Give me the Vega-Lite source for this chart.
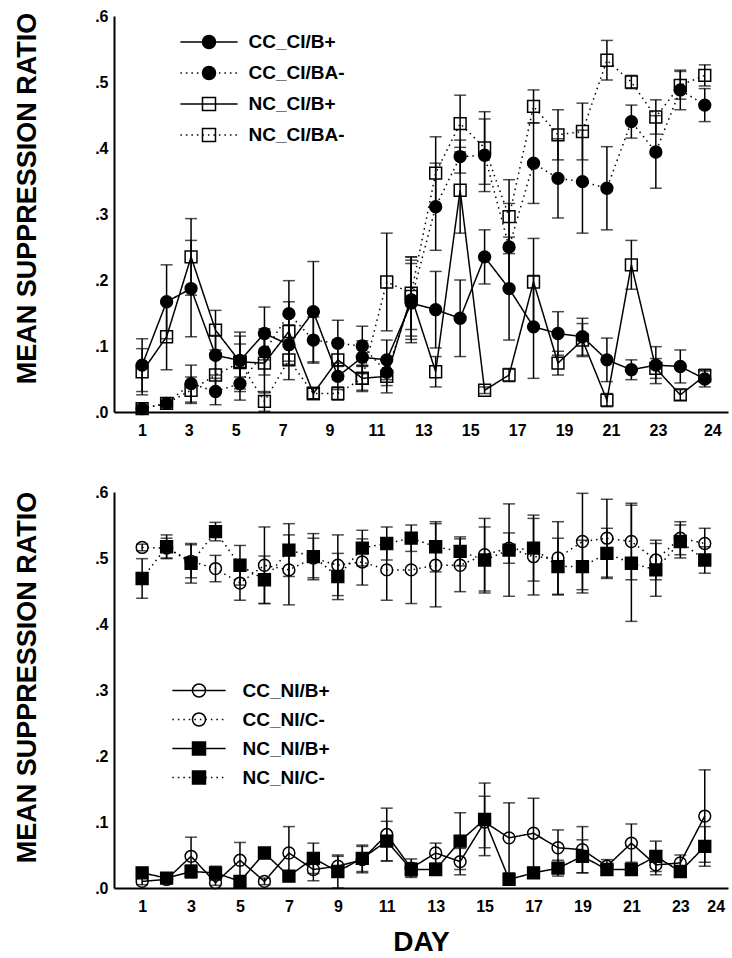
{
"$schema": "https://vega.github.io/schema/vega-lite/v6.json",
"padding": {"left": 12, "top": 8, "right": 4, "bottom": 0},
"spacing": 46,
"datasets": {
"top": [
{"d":1,"s":"CC_CI/B+","m":0.071,"e":0.04},{"d":2,"s":"CC_CI/B+","m":0.167,"e":0.056},{"d":3,"s":"CC_CI/B+","m":0.187,"e":0.073},{"d":4,"s":"CC_CI/B+","m":0.086,"e":0.03},{"d":5,"s":"CC_CI/B+","m":0.078,"e":0.025},{"d":6,"s":"CC_CI/B+","m":0.119,"e":0.04},{"d":7,"s":"CC_CI/B+","m":0.102,"e":0.03},{"d":8,"s":"CC_CI/B+","m":0.152,"e":0.076},{"d":9,"s":"CC_CI/B+","m":0.054,"e":0.02},{"d":10,"s":"CC_CI/B+","m":0.083,"e":0.025},{"d":11,"s":"CC_CI/B+","m":0.079,"e":0.03},{"d":12,"s":"CC_CI/B+","m":0.165,"e":0.06},{"d":13,"s":"CC_CI/B+","m":0.155,"e":0.058},{"d":14,"s":"CC_CI/B+","m":0.142,"e":0.058},{"d":15,"s":"CC_CI/B+","m":0.235,"e":0.041},{"d":16,"s":"CC_CI/B+","m":0.187,"e":0.078},{"d":17,"s":"CC_CI/B+","m":0.129,"e":0.078},{"d":18,"s":"CC_CI/B+","m":0.119,"e":0.033},{"d":19,"s":"CC_CI/B+","m":0.114,"e":0.028},{"d":20,"s":"CC_CI/B+","m":0.079,"e":0.033},{"d":21,"s":"CC_CI/B+","m":0.064,"e":0.015},{"d":22,"s":"CC_CI/B+","m":0.071,"e":0.028},{"d":23,"s":"CC_CI/B+","m":0.069,"e":0.025},{"d":24,"s":"CC_CI/B+","m":0.05,"e":0.012},
{"d":1,"s":"CC_CI/BA-","m":0.005,"e":0.003},{"d":2,"s":"CC_CI/BA-","m":0.013,"e":0.003},{"d":3,"s":"CC_CI/BA-","m":0.043,"e":0.028},{"d":4,"s":"CC_CI/BA-","m":0.031,"e":0.02},{"d":5,"s":"CC_CI/BA-","m":0.043,"e":0.025},{"d":6,"s":"CC_CI/BA-","m":0.091,"e":0.035},{"d":7,"s":"CC_CI/BA-","m":0.149,"e":0.05},{"d":8,"s":"CC_CI/BA-","m":0.109,"e":0.035},{"d":9,"s":"CC_CI/BA-","m":0.104,"e":0.035},{"d":10,"s":"CC_CI/BA-","m":0.1,"e":0.03},{"d":11,"s":"CC_CI/BA-","m":0.06,"e":0.02},{"d":12,"s":"CC_CI/BA-","m":0.17,"e":0.06},{"d":13,"s":"CC_CI/BA-","m":0.311,"e":0.066},{"d":14,"s":"CC_CI/BA-","m":0.387,"e":0.025},{"d":15,"s":"CC_CI/BA-","m":0.389,"e":0.055},{"d":16,"s":"CC_CI/BA-","m":0.25,"e":0.066},{"d":17,"s":"CC_CI/BA-","m":0.377,"e":0.061},{"d":18,"s":"CC_CI/BA-","m":0.354,"e":0.06},{"d":19,"s":"CC_CI/BA-","m":0.349,"e":0.078},{"d":20,"s":"CC_CI/BA-","m":0.339,"e":0.063},{"d":21,"s":"CC_CI/BA-","m":0.44,"e":0.025},{"d":22,"s":"CC_CI/BA-","m":0.394,"e":0.055},{"d":23,"s":"CC_CI/BA-","m":0.488,"e":0.03},{"d":24,"s":"CC_CI/BA-","m":0.465,"e":0.025},
{"d":1,"s":"NC_CI/B+","m":0.061,"e":0.035},{"d":2,"s":"NC_CI/B+","m":0.114,"e":0.05},{"d":3,"s":"NC_CI/B+","m":0.235,"e":0.058},{"d":4,"s":"NC_CI/B+","m":0.124,"e":0.03},{"d":5,"s":"NC_CI/B+","m":0.076,"e":0.045},{"d":6,"s":"NC_CI/B+","m":0.074,"e":0.045},{"d":7,"s":"NC_CI/B+","m":0.122,"e":0.045},{"d":8,"s":"NC_CI/B+","m":0.028,"e":0.008},{"d":9,"s":"NC_CI/B+","m":0.079,"e":0.03},{"d":10,"s":"NC_CI/B+","m":0.051,"e":0.018},{"d":11,"s":"NC_CI/B+","m":0.054,"e":0.025},{"d":12,"s":"NC_CI/B+","m":0.175,"e":0.06},{"d":13,"s":"NC_CI/B+","m":0.061,"e":0.023},{"d":14,"s":"NC_CI/B+","m":0.336,"e":0.065},{"d":15,"s":"NC_CI/B+","m":0.033,"e":0.005},{"d":16,"s":"NC_CI/B+","m":0.056,"e":0.01},{"d":17,"s":"NC_CI/B+","m":0.197,"e":0.066},{"d":18,"s":"NC_CI/B+","m":0.074,"e":0.018},{"d":19,"s":"NC_CI/B+","m":0.109,"e":0.025},{"d":20,"s":"NC_CI/B+","m":0.018,"e":0.01},{"d":21,"s":"NC_CI/B+","m":0.223,"e":0.037},{"d":22,"s":"NC_CI/B+","m":0.066,"e":0.015},{"d":23,"s":"NC_CI/B+","m":0.026,"e":0.008},{"d":24,"s":"NC_CI/B+","m":0.055,"e":0.01},
{"d":1,"s":"NC_CI/BA-","m":0.005,"e":0.003},{"d":2,"s":"NC_CI/BA-","m":0.013,"e":0.003},{"d":3,"s":"NC_CI/BA-","m":0.033,"e":0.02},{"d":4,"s":"NC_CI/BA-","m":0.056,"e":0.025},{"d":5,"s":"NC_CI/BA-","m":0.075,"e":0.04},{"d":6,"s":"NC_CI/BA-","m":0.016,"e":0.015},{"d":7,"s":"NC_CI/BA-","m":0.079,"e":0.03},{"d":8,"s":"NC_CI/BA-","m":0.028,"e":0.008},{"d":9,"s":"NC_CI/BA-","m":0.028,"e":0.01},{"d":10,"s":"NC_CI/BA-","m":0.051,"e":0.02},{"d":11,"s":"NC_CI/BA-","m":0.197,"e":0.074},{"d":12,"s":"NC_CI/BA-","m":0.18,"e":0.055},{"d":13,"s":"NC_CI/BA-","m":0.362,"e":0.055},{"d":14,"s":"NC_CI/BA-","m":0.437,"e":0.043},{"d":15,"s":"NC_CI/BA-","m":0.4,"e":0.055},{"d":16,"s":"NC_CI/BA-","m":0.296,"e":0.056},{"d":17,"s":"NC_CI/BA-","m":0.463,"e":0.025},{"d":18,"s":"NC_CI/BA-","m":0.42,"e":0.038},{"d":19,"s":"NC_CI/BA-","m":0.425,"e":0.043},{"d":20,"s":"NC_CI/BA-","m":0.533,"e":0.03},{"d":21,"s":"NC_CI/BA-","m":0.5,"e":0.01},{"d":22,"s":"NC_CI/BA-","m":0.447,"e":0.026},{"d":23,"s":"NC_CI/BA-","m":0.495,"e":0.021},{"d":24,"s":"NC_CI/BA-","m":0.51,"e":0.016}
],
"bottom": [
{"d":1,"s":"CC_NI/B+","m":0.01,"e":0.005},{"d":2,"s":"CC_NI/B+","m":0.013,"e":0.004},{"d":3,"s":"CC_NI/B+","m":0.048,"e":0.029},{"d":4,"s":"CC_NI/B+","m":0.008,"e":0.004},{"d":5,"s":"CC_NI/B+","m":0.042,"e":0.027},{"d":6,"s":"CC_NI/B+","m":0.01,"e":0.005},{"d":7,"s":"CC_NI/B+","m":0.053,"e":0.04},{"d":8,"s":"CC_NI/B+","m":0.028,"e":0.017},{"d":9,"s":"CC_NI/B+","m":0.033,"e":0.015},{"d":10,"s":"CC_NI/B+","m":0.043,"e":0.02},{"d":11,"s":"CC_NI/B+","m":0.081,"e":0.04},{"d":12,"s":"CC_NI/B+","m":0.03,"e":0.014},{"d":13,"s":"CC_NI/B+","m":0.053,"e":0.015},{"d":14,"s":"CC_NI/B+","m":0.04,"e":0.02},{"d":15,"s":"CC_NI/B+","m":0.1,"e":0.039},{"d":16,"s":"CC_NI/B+","m":0.076,"e":0.053},{"d":17,"s":"CC_NI/B+","m":0.083,"e":0.053},{"d":18,"s":"CC_NI/B+","m":0.061,"e":0.027},{"d":19,"s":"CC_NI/B+","m":0.058,"e":0.035},{"d":20,"s":"CC_NI/B+","m":0.033,"e":0.01},{"d":21,"s":"CC_NI/B+","m":0.068,"e":0.029},{"d":22,"s":"CC_NI/B+","m":0.035,"e":0.015},{"d":23,"s":"CC_NI/B+","m":0.038,"e":0.012},{"d":24,"s":"CC_NI/B+","m":0.109,"e":0.07},
{"d":1,"s":"CC_NI/C-","m":0.516,"e":0.005},{"d":2,"s":"CC_NI/C-","m":0.515,"e":0.015},{"d":3,"s":"CC_NI/C-","m":0.495,"e":0.025},{"d":4,"s":"CC_NI/C-","m":0.484,"e":0.02},{"d":5,"s":"CC_NI/C-","m":0.462,"e":0.026},{"d":6,"s":"CC_NI/C-","m":0.489,"e":0.058},{"d":7,"s":"CC_NI/C-","m":0.482,"e":0.053},{"d":8,"s":"CC_NI/C-","m":0.5,"e":0.03},{"d":9,"s":"CC_NI/C-","m":0.489,"e":0.046},{"d":10,"s":"CC_NI/C-","m":0.494,"e":0.035},{"d":11,"s":"CC_NI/C-","m":0.482,"e":0.046},{"d":12,"s":"CC_NI/C-","m":0.482,"e":0.051},{"d":13,"s":"CC_NI/C-","m":0.489,"e":0.063},{"d":14,"s":"CC_NI/C-","m":0.489,"e":0.04},{"d":15,"s":"CC_NI/C-","m":0.505,"e":0.055},{"d":16,"s":"CC_NI/C-","m":0.515,"e":0.023},{"d":17,"s":"CC_NI/C-","m":0.502,"e":0.058},{"d":18,"s":"CC_NI/C-","m":0.5,"e":0.055},{"d":19,"s":"CC_NI/C-","m":0.525,"e":0.073},{"d":20,"s":"CC_NI/C-","m":0.53,"e":0.059},{"d":21,"s":"CC_NI/C-","m":0.525,"e":0.058},{"d":22,"s":"CC_NI/C-","m":0.497,"e":0.03},{"d":23,"s":"CC_NI/C-","m":0.53,"e":0.025},{"d":24,"s":"CC_NI/C-","m":0.522,"e":0.023},
{"d":1,"s":"NC_NI/B+","m":0.023,"e":0.005},{"d":2,"s":"NC_NI/B+","m":0.015,"e":0.004},{"d":3,"s":"NC_NI/B+","m":0.025,"e":0.01},{"d":4,"s":"NC_NI/B+","m":0.023,"e":0.01},{"d":5,"s":"NC_NI/B+","m":0.01,"e":0.005},{"d":6,"s":"NC_NI/B+","m":0.053,"e":0.008},{"d":7,"s":"NC_NI/B+","m":0.018,"e":0.008},{"d":8,"s":"NC_NI/B+","m":0.045,"e":0.023},{"d":9,"s":"NC_NI/B+","m":0.025,"e":0.025},{"d":10,"s":"NC_NI/B+","m":0.045,"e":0.02},{"d":11,"s":"NC_NI/B+","m":0.071,"e":0.03},{"d":12,"s":"NC_NI/B+","m":0.028,"e":0.01},{"d":13,"s":"NC_NI/B+","m":0.028,"e":0.008},{"d":14,"s":"NC_NI/B+","m":0.071,"e":0.043},{"d":15,"s":"NC_NI/B+","m":0.104,"e":0.055},{"d":16,"s":"NC_NI/B+","m":0.013,"e":0.005},{"d":17,"s":"NC_NI/B+","m":0.023,"e":0.008},{"d":18,"s":"NC_NI/B+","m":0.03,"e":0.012},{"d":19,"s":"NC_NI/B+","m":0.048,"e":0.025},{"d":20,"s":"NC_NI/B+","m":0.028,"e":0.008},{"d":21,"s":"NC_NI/B+","m":0.028,"e":0.008},{"d":22,"s":"NC_NI/B+","m":0.048,"e":0.023},{"d":23,"s":"NC_NI/B+","m":0.025,"e":0.008},{"d":24,"s":"NC_NI/B+","m":0.063,"e":0.03},
{"d":1,"s":"NC_NI/C-","m":0.469,"e":0.03},{"d":2,"s":"NC_NI/C-","m":0.517,"e":0.018},{"d":3,"s":"NC_NI/C-","m":0.492,"e":0.03},{"d":4,"s":"NC_NI/C-","m":0.54,"e":0.014},{"d":5,"s":"NC_NI/C-","m":0.489,"e":0.03},{"d":6,"s":"NC_NI/C-","m":0.467,"e":0.036},{"d":7,"s":"NC_NI/C-","m":0.512,"e":0.04},{"d":8,"s":"NC_NI/C-","m":0.502,"e":0.035},{"d":9,"s":"NC_NI/C-","m":0.472,"e":0.035},{"d":10,"s":"NC_NI/C-","m":0.515,"e":0.027},{"d":11,"s":"NC_NI/C-","m":0.522,"e":0.025},{"d":12,"s":"NC_NI/C-","m":0.53,"e":0.02},{"d":13,"s":"NC_NI/C-","m":0.517,"e":0.038},{"d":14,"s":"NC_NI/C-","m":0.51,"e":0.022},{"d":15,"s":"NC_NI/C-","m":0.497,"e":0.05},{"d":16,"s":"NC_NI/C-","m":0.512,"e":0.07},{"d":17,"s":"NC_NI/C-","m":0.515,"e":0.05},{"d":18,"s":"NC_NI/C-","m":0.487,"e":0.043},{"d":19,"s":"NC_NI/C-","m":0.487,"e":0.04},{"d":20,"s":"NC_NI/C-","m":0.507,"e":0.038},{"d":21,"s":"NC_NI/C-","m":0.492,"e":0.088},{"d":22,"s":"NC_NI/C-","m":0.482,"e":0.04},{"d":23,"s":"NC_NI/C-","m":0.525,"e":0.025},{"d":24,"s":"NC_NI/C-","m":0.497,"e":0.02}
]
},
"vconcat": [
{
"width": 614, "height": 396,
"data": {"name": "top"},
"layer": [
{
"mark": {"type": "errorbar", "color": "black", "ticks": {"size": 12, "thickness": 1.5}, "rule": {"strokeWidth": 1.5}},
"encoding": {
"x": {"field": "d", "type": "quantitative", "scale": {"domain": [-0.15, 24.95], "nice": false}, "axis": null},
"y": {"field": "m", "type": "quantitative", "scale": {"domain": [0, 0.6], "nice": false}, "axis": {"title": "MEAN SUPPRESSION RATIO", "titleFontSize": 27, "titleX": -79, "titleY": 182, "titleBaseline": "alphabetic", "titleAlign": "center", "values": [0, 0.1, 0.2, 0.3, 0.4, 0.5, 0.6], "labelExpr": "replace(format(datum.value, '.1f'), '0.', '.')", "labelPadding": 6}},
"yError": {"field": "e"}
}
},
{
"mark": {"type": "line", "color": "black", "strokeWidth": 1.5},
"encoding": {
"x": {"field": "d", "type": "quantitative", "scale": {"domain": [-0.15, 24.95], "nice": false}, "axis": null},
"y": {"field": "m", "type": "quantitative"},
"strokeDash": {
"field": "s", "type": "nominal", "scale": {"range": [[1, 0], [1.5, 4], [1, 0], [1.5, 4]]},
"legend": {"orient": "none", "legendX": 85.5, "legendY": 16.5, "title": null, "padding": 0, "rowPadding": 11, "labelFont": "Liberation Sans, Arial, sans-serif", "labelFontWeight": "bold", "labelFontSize": 19, "labelColor": "black", "labelOffset": 30, "symbolType": "M-4.4,0L4.4,0", "symbolSize": 169, "symbolStrokeColor": "black", "symbolStrokeWidth": 1.5, "symbolFillColor": "transparent", "symbolOpacity": 1}
}
}
},
{
"mark": {"type": "point", "filled": true, "stroke": "black", "strokeWidth": 1.5, "size": 140, "opacity": 1},
"encoding": {
"x": {"field": "d", "type": "quantitative", "scale": {"domain": [-0.15, 24.95], "nice": false}, "axis": null},
"y": {"field": "m", "type": "quantitative"},
"fill": {"field": "s", "type": "nominal", "scale": {"domain": ["CC_CI/B+", "CC_CI/BA-", "NC_CI/B+", "NC_CI/BA-"], "range": ["black", "black", "transparent", "transparent"]}},
"stroke": {"field": "s", "type": "nominal", "scale": {"domain": ["CC_CI/B+", "CC_CI/BA-", "NC_CI/B+", "NC_CI/BA-"], "range": ["black", "black", "black", "black"]}},
"shape": {
"field": "s", "type": "nominal", "scale": {"domain": ["CC_CI/B+", "CC_CI/BA-", "NC_CI/B+", "NC_CI/BA-"], "range": ["circle", "circle", "square", "square"]},
"legend": {"orient": "none", "legendX": 85.5, "legendY": 16.5, "title": null, "padding": 0, "rowPadding": 11, "labelFont": "Liberation Sans, Arial, sans-serif", "labelFontWeight": "bold", "labelFontSize": 19, "labelColor": "black", "labelOpacity": 0, "labelOffset": 30, "symbolSize": 169, "symbolStrokeWidth": 1.5, "symbolOpacity": 1}
}
}
},
{
"mark": {"type": "point", "opacity": 0},
"encoding": {
"x": {
"field": "d", "type": "quantitative", "scale": {"domain": [-0.19, 25.99], "nice": false},
"axis": {
"orient": "bottom", "title": null, "values": [1, 3, 5, 7, 9, 11, 13, 15, 17, 19, 21, 23, 24], "labelPadding": 10, "labelFlush": false,
"labelOffset": {"condition": {"test": "datum.value === 24", "value": 31}, "value": 0}
}
},
"y": {"field": "m", "type": "quantitative"}
}
}
],
"resolve": {"scale": {"x": "independent"}}
},
{
"width": 614, "height": 396,
"data": {"name": "bottom"},
"layer": [
{
"mark": {"type": "errorbar", "color": "black", "ticks": {"size": 12, "thickness": 1.5}, "rule": {"strokeWidth": 1.5}},
"encoding": {
"x": {
"field": "d", "type": "quantitative", "scale": {"domain": [-0.15, 24.95], "nice": false},
"axis": {
"title": "DAY", "titleFontSize": 28, "titlePadding": 14,
"values": [1, 3, 5, 7, 9, 11, 13, 15, 17, 19, 21, 23, 24], "labelPadding": 10, "labelFlush": false,
"labelOffset": {"condition": {"test": "datum.value === 24", "value": 11}, "value": 0}
}
},
"y": {"field": "m", "type": "quantitative", "scale": {"domain": [0, 0.6], "nice": false}, "axis": {"title": "MEAN SUPPRESSION RATIO", "titleFontSize": 27, "titleX": -79, "titleY": 185, "titleBaseline": "alphabetic", "titleAlign": "center", "values": [0, 0.1, 0.2, 0.3, 0.4, 0.5, 0.6], "labelExpr": "replace(format(datum.value, '.1f'), '0.', '.')", "labelPadding": 6}},
"yError": {"field": "e"}
}
},
{
"mark": {"type": "line", "color": "black", "strokeWidth": 1.5},
"encoding": {
"x": {"field": "d", "type": "quantitative", "scale": {"domain": [-0.15, 24.95], "nice": false}},
"y": {"field": "m", "type": "quantitative"},
"strokeDash": {
"field": "s", "type": "nominal", "scale": {"range": [[1, 0], [1.5, 4], [1, 0], [1.5, 4]]},
"legend": {"orient": "none", "legendX": 75.5, "legendY": 189, "title": null, "padding": 0, "rowPadding": 9, "labelFont": "Liberation Sans, Arial, sans-serif", "labelFontWeight": "bold", "labelFontSize": 19, "labelColor": "black", "labelOffset": 34, "symbolType": "M-4.1,0L4.1,0", "symbolSize": 169, "symbolStrokeColor": "black", "symbolStrokeWidth": 1.5, "symbolFillColor": "transparent", "symbolOpacity": 1}
}
}
},
{
"mark": {"type": "point", "filled": true, "stroke": "black", "strokeWidth": 1.5, "size": 140, "opacity": 1},
"encoding": {
"x": {"field": "d", "type": "quantitative", "scale": {"domain": [-0.15, 24.95], "nice": false}},
"y": {"field": "m", "type": "quantitative"},
"fill": {"field": "s", "type": "nominal", "scale": {"domain": ["CC_NI/B+", "CC_NI/C-", "NC_NI/B+", "NC_NI/C-"], "range": ["transparent", "transparent", "black", "black"]}},
"stroke": {"field": "s", "type": "nominal", "scale": {"domain": ["CC_NI/B+", "CC_NI/C-", "NC_NI/B+", "NC_NI/C-"], "range": ["black", "black", "black", "black"]}},
"shape": {
"field": "s", "type": "nominal", "scale": {"domain": ["CC_NI/B+", "CC_NI/C-", "NC_NI/B+", "NC_NI/C-"], "range": ["circle", "circle", "square", "square"]},
"legend": {"orient": "none", "legendX": 75.5, "legendY": 189, "title": null, "padding": 0, "rowPadding": 9, "labelFont": "Liberation Sans, Arial, sans-serif", "labelFontWeight": "bold", "labelFontSize": 19, "labelColor": "black", "labelOpacity": 0, "labelOffset": 34, "symbolSize": 169, "symbolStrokeWidth": 1.5, "symbolOpacity": 1}
}
}
}
]
}
],
"resolve": {"scale": {"x": "independent", "y": "independent", "shape": "independent", "fill": "independent", "stroke": "independent", "strokeDash": "independent"}, "legend": {"shape": "independent", "fill": "independent", "stroke": "independent", "strokeDash": "independent"}},
"config": {
"view": {"stroke": null},
"axis": {"domainColor": "black", "domainWidth": 2, "ticks": false, "grid": false, "labelFont": "Liberation Sans, Arial, sans-serif", "labelFontWeight": "bold", "labelFontSize": 16, "labelColor": "black", "titleFont": "Liberation Sans, Arial, sans-serif", "titleFontWeight": "bold", "titleColor": "black"}
}
}
